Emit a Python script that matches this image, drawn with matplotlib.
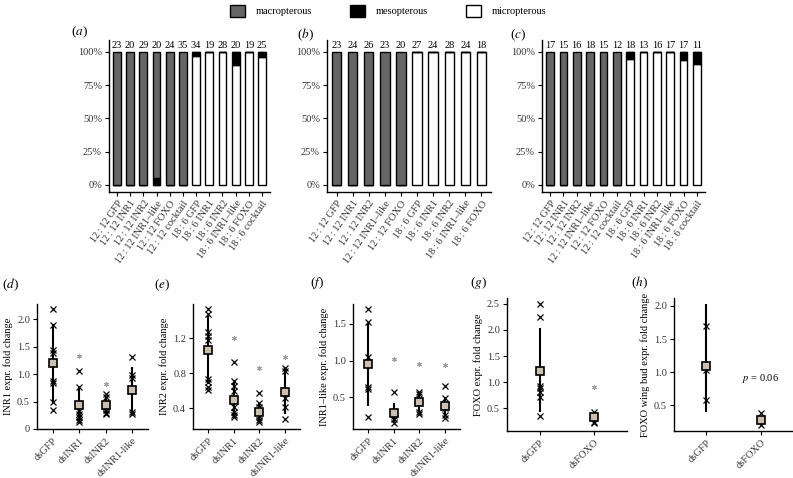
import numpy as np
import matplotlib
matplotlib.use("Agg")
import matplotlib.pyplot as plt
from matplotlib.patches import Patch

plt.rcParams['font.family'] = ['Liberation Serif', 'DejaVu Serif']
plt.rcParams['mathtext.fontset'] = 'stix'
plt.rcParams['font.size'] = 7

# ---- wing morph data (counts) ----
names_a = ["12\u2009:\u200912 GFP", "12\u2009:\u200912 INR1", "12\u2009:\u200912 INR2", "12\u2009:\u200912 INR1\u2013like",
           "12\u2009:\u200912 FOXO", "12\u2009:\u200912 cocktail", "18\u2009:\u20096 GFP", "18\u2009:\u20096 INR1",
           "18\u2009:\u20096 INR2", "18\u2009:\u20096 INR1\u2013like", "18\u2009:\u20096 FOXO", "18\u2009:\u20096 cocktail"]
n_a = [23, 20, 29, 20, 24, 35, 34, 19, 28, 20, 19, 25]
macro_a = [23, 20, 29, 19, 24, 35, 0, 0, 0, 0, 0, 0]
meso_a = [0, 0, 0, 1, 0, 0, 1, 0, 0, 2, 0, 1]

names_b = ["12\u2009:\u200912 GFP", "12\u2009:\u200912 INR1", "12\u2009:\u200912 INR2", "12\u2009:\u200912 INR1\u2013like",
           "12\u2009:\u200912 FOXO", "18\u2009:\u20096 GFP", "18\u2009:\u20096 INR1", "18\u2009:\u20096 INR2",
           "18\u2009:\u20096 INR1\u2013like", "18\u2009:\u20096 FOXO"]
n_b = [23, 24, 26, 23, 20, 27, 24, 28, 24, 18]
macro_b = [23, 24, 26, 23, 20, 0, 0, 0, 0, 0]
meso_b = [0, 0, 0, 0, 0, 0, 0, 0, 0, 0]

names_c = names_a
n_c = [17, 15, 16, 18, 15, 12, 18, 13, 16, 17, 17, 11]
macro_c = [17, 15, 16, 18, 15, 12, 0, 0, 0, 0, 0, 0]
meso_c = [0, 0, 0, 0, 0, 0, 1, 0, 0, 0, 1, 1]

# ---- expression data ----
groups_ins = ["dsGFP", "dsINR1", "dsINR2", "dsINR1-like"]
groups_foxo = ["dsGFP", "dsFOXO"]

d_pts = [[2.18, 1.89, 1.45, 1.39, 0.87, 0.84, 0.49, 0.35],
         [1.06, 0.77, 0.33, 0.27, 0.22, 0.17, 0.12],
         [0.63, 0.58, 0.45, 0.40, 0.35, 0.30, 0.27],
         [1.31, 0.98, 0.93, 0.31, 0.28]]
d_mean = [1.20, 0.44, 0.44, 0.71]
d_lo = [0.48, 0.13, 0.30, 0.28]
d_hi = [1.92, 0.76, 0.58, 1.14]
d_star = [np.nan, 1.33, 0.82, np.nan]

e_pts = [[1.53, 1.48, 1.27, 1.23, 1.18, 0.73, 0.70, 0.64, 0.61],
         [0.93, 0.71, 0.66, 0.60, 0.50, 0.42, 0.36, 0.33, 0.30],
         [0.57, 0.46, 0.42, 0.31, 0.27, 0.24],
         [0.86, 0.83, 0.52, 0.42, 0.28]]
e_mean = [1.06, 0.49, 0.36, 0.59]
e_lo = [0.68, 0.30, 0.26, 0.34]
e_hi = [1.45, 0.72, 0.46, 0.87]
e_star = [np.nan, 1.20, 0.86, 0.99]

f_pts = [[1.70, 1.52, 1.05, 0.64, 0.61, 0.23],
         [0.57, 0.25, 0.20, 0.15],
         [0.58, 0.55, 0.30, 0.28],
         [0.65, 0.49, 0.36, 0.26, 0.22]]
f_mean = [0.95, 0.29, 0.44, 0.38]
f_lo = [0.38, 0.16, 0.30, 0.25]
f_hi = [1.51, 0.43, 0.58, 0.50]
f_star = [np.nan, 1.02, 0.96, 0.94]

g_pts = [[2.50, 2.24, 0.92, 0.88, 0.82, 0.72, 0.35],
         [0.43, 0.24, 0.21]]
g_mean = [1.22, 0.33]
g_lo = [0.43, 0.22]
g_hi = [2.03, 0.42]
g_star = [np.nan, 0.91]

h_pts = [[1.69, 1.03, 0.58],
         [0.38, 0.20]]
h_mean = [1.09, 0.28]
h_lo = [0.40, 0.22]
h_hi = [2.03, 0.34]
h_star = [np.nan, np.nan]

W, H = 793, 478
fig = plt.figure(figsize=(W / 100, H / 100), dpi=100)


def px_axes(l, t, r, b):
    return fig.add_axes([l / W, 1 - b / H, (r - l) / W, (b - t) / H])


def style(ax):
    for s in ['top', 'right']:
        ax.spines[s].set_visible(False)
    for s in ['left', 'bottom']:
        ax.spines[s].set_linewidth(1.0)
    ax.tick_params(direction='out', length=3, width=0.8, colors='black',
                   labelcolor='#333333', labelsize=7.5, pad=2)


def wing_panel(ax, names, n, macro, meso):
    n = np.array(n, float)
    macro = np.array(macro, float)
    meso = np.array(meso, float)
    micro = n - macro - meso
    x = np.arange(len(n))
    p_mi = micro / n * 100
    p_me = meso / n * 100
    p_ma = macro / n * 100
    kw = dict(width=0.58, edgecolor='black', linewidth=1.0)
    ax.bar(x, p_mi, color='white', **kw)
    ax.bar(x, p_me, bottom=p_mi, color='black', **kw)
    ax.bar(x, p_ma, bottom=p_mi + p_me, color='#666666', **kw)
    for xi, ni in zip(x, n):
        ax.text(xi, 101.8, str(int(ni)), ha='center', va='bottom', fontsize=7.5)
    ax.set_xlim(-0.6, len(n) - 0.4)
    ax.set_ylim(-5.3, 109)
    ax.set_yticks([0, 25, 50, 75, 100])
    ax.set_yticklabels(['0%', '25%', '50%', '75%', '100%'])
    ax.set_xticks(x)
    ax.set_xticklabels(names, rotation=55, ha='right', rotation_mode='anchor')
    style(ax)


def expr_panel(ax, groups, pts, mean, lo, hi, star, ylim, yticks, yticklabels, ylabel):
    x = np.arange(len(groups))
    for xi, p in zip(x, pts):
        ax.plot([xi] * len(p), p, 'x', color='black', ms=4.5, mew=0.9)
    ax.vlines(x, lo, hi, color='black', lw=1.5)
    ax.plot(x, mean, 's', mfc='#cdbfb0', mec='black', ms=6, mew=1.2)
    ax.plot(x, star, marker=(6, 2, 0), ls='none', color='#a0a0a0', ms=3.5, mew=0.8)
    ax.set_xlim(-0.6, len(groups) - 0.4)
    ax.set_ylim(*ylim)
    ax.set_yticks(yticks)
    ax.set_yticklabels(yticklabels)
    ax.set_xticks(x)
    ax.set_xticklabels(groups, rotation=45, ha='right', rotation_mode='anchor')
    ax.set_ylabel(ylabel, fontsize=7.5, labelpad=3)
    style(ax)


ax_a = px_axes(109, 40, 270, 192)
wing_panel(ax_a, names_a, n_a, macro_a, meso_a)
ax_b = px_axes(327, 40, 491, 192)
wing_panel(ax_b, names_b, n_b, macro_b, meso_b)
ax_c = px_axes(542, 40, 705, 192)
wing_panel(ax_c, names_c, n_c, macro_c, meso_c)

ax_d = px_axes(37, 304, 148, 429)
expr_panel(ax_d, groups_ins, d_pts, d_mean, d_lo, d_hi, d_star, (0, 2.28),
           [0, 0.5, 1.0, 1.5, 2.0], ['0', '0.5', '1.0', '1.5', '2.0'], 'INR1 expr. fold change')
ax_e = px_axes(193, 304, 300, 429)
expr_panel(ax_e, groups_ins, e_pts, e_mean, e_lo, e_hi, e_star, (0.165, 1.59),
           [0.4, 0.8, 1.2], ['0.4', '0.8', '1.2'], 'INR2 expr. fold change')
ax_f = px_axes(353, 304, 460, 429)
expr_panel(ax_f, groups_ins, f_pts, f_mean, f_lo, f_hi, f_star, (0.07, 1.77),
           [0.5, 1.0, 1.5], ['0.5', '1.0', '1.5'], 'INR1\u2013like expr. fold change')
ax_g = px_axes(507, 298, 627, 431)
expr_panel(ax_g, groups_foxo, g_pts, g_mean, g_lo, g_hi, g_star, (0.065, 2.61),
           [0.5, 1.0, 1.5, 2.0, 2.5], ['0.5', '1.0', '1.5', '2.0', '2.5'], 'FOXO expr. fold change')
ax_h = px_axes(674, 298, 793, 431)
expr_panel(ax_h, groups_foxo, h_pts, h_mean, h_lo, h_hi, h_star, (0.11, 2.12),
           [0.5, 1.0, 1.5, 2.0], ['0.5', '1.0', '1.5', '2.0'], 'FOXO wing bud expr. fold change')
ax_h.text(1, 0.90, r'$p$ = 0.06', ha='center', va='center', fontsize=7.5)

# panel tags
tags = [('a', 79, 32), ('b', 305, 35), ('c', 518, 35), ('d', 10, 285),
        ('e', 162, 285), ('f', 317, 283), ('g', 478, 283), ('h', 639, 283)]
for t, tx, ty in tags:
    fig.text(tx / W, 1 - ty / H, r'($%s$)' % t, ha='center', va='center', fontsize=9.5)

handles = [Patch(facecolor='#666666', edgecolor='black', lw=1.0),
           Patch(facecolor='black', edgecolor='black', lw=1.0),
           Patch(facecolor='white', edgecolor='black', lw=1.0)]
fig.legend(handles, ['macropterous', 'mesopterous', 'micropterous'], loc='center',
           bbox_to_anchor=(388 / W, 1 - 11 / H), ncol=3, frameon=False, fontsize=7.5,
           handlelength=1.5, handleheight=1.5, handletextpad=1.0, columnspacing=3.6)

fig.savefig("out.png", dpi=100)
